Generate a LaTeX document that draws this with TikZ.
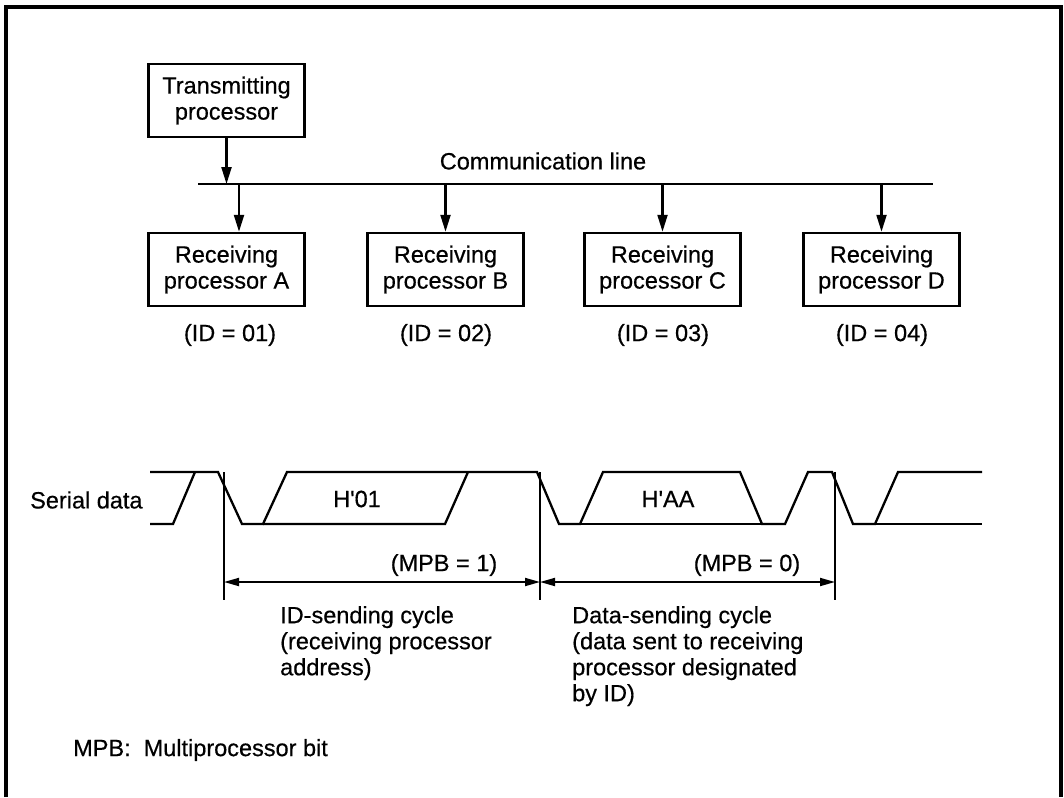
\documentclass[tikz,border=0pt]{standalone}
\usepackage{fontspec}
\setmainfont{Liberation Sans}[FakeBold=0.5]
\usetikzlibrary{arrows.meta}
\begin{document}
\begin{tikzpicture}[x=1pt,y=-1pt,
  every node/.style={font=\fontsize{23.5}{26}\selectfont},
  procbox/.style={draw,line width=2.5pt,minimum width=156pt,minimum height=73pt,align=center,inner sep=0pt},
  txt/.style={inner sep=0pt},
  conn/.style={line width=2.2pt,-{Triangle[length=17pt,width=10pt]}},
  wave/.style={line width=2.3pt,line join=miter},
  dimline/.style={line width=1.8pt,{Triangle[length=15pt,width=8pt]}-{Triangle[length=15pt,width=8pt]}},
  guide/.style={line width=1.8pt}]
\useasboundingbox (0,0) rectangle (1064,797);
% frame
\draw[line width=3.5pt] (6,797) -- (6,7) -- (1061,7) -- (1061,797);

% boxes
\node[procbox] (tp) at (226.5,100.5) {Transmitting\\processor};
\node[procbox] (ra) at (226.5,269.5) {Receiving\\processor A};
\node[procbox] (rb) at (445.5,269.5) {Receiving\\processor B};
\node[procbox] (rc) at (662.5,269.5) {Receiving\\processor C};
\node[procbox] (rd) at (881.5,269.5) {Receiving\\processor D};

% bus
\coordinate (busL) at (198,184);
\coordinate (busR) at (933,184);
\draw[line width=2.2pt] (busL) -- (busR);
\node[txt] (cl) at (543,161) {Communication line};
\coordinate (bT) at (226.5,184);
\coordinate (bA) at (239,184);
\coordinate (bB) at (445.5,184);
\coordinate (bC) at (662.5,184);
\coordinate (bD) at (881.5,184);
\draw[conn] (tp.south) -- (bT);
\draw[conn] (bA) -- (bA |- ra.north);
\draw[conn] (bB) -- (rb.north);
\draw[conn] (bC) -- (rc.north);
\draw[conn] (bD) -- (rd.north);

% IDs
\node[txt] (ida) at (230,335) {(ID = 01)};
\node[txt] (idb) at (446,335) {(ID = 02)};
\node[txt] (idc) at (663,335) {(ID = 03)};
\node[txt] (idd) at (882,335) {(ID = 04)};

% waveform
\node[txt,anchor=west] (sd) at (30,500) {Serial data};
\draw[wave] (150,472) -- (218,472) -- (242,524) -- (263,524) -- (287,472) -- (537,472)
  -- (559,524) -- (580,524) -- (603,472) -- (740,472) -- (762,524) -- (785,524)
  -- (808,472) -- (832,472) -- (853,524) -- (875,524) -- (898,472) -- (982,472);
\draw[wave] (150,524) -- (173,524) -- (195,472);
\draw[wave] (263,524) -- (445,524) -- (468,472);
\draw[wave] (580,524) -- (762,524);
\draw[wave] (875,524) -- (982,524);
\node[txt] (h01) at (357,499) {H\textquotesingle 01};
\node[txt] (haa) at (668,499) {H\textquotesingle AA};

% cycle markers
\coordinate (g1t) at (224,472); \coordinate (g1b) at (224,600);
\coordinate (g2t) at (540,472); \coordinate (g2b) at (540,600);
\coordinate (g3t) at (835,472); \coordinate (g3b) at (835,600);
\draw[guide] (g1t) -- (g1b);
\draw[guide] (g2t) -- (g2b);
\draw[guide] (g3t) -- (g3b);
\coordinate (d1) at (224,582);
\coordinate (d2) at (540,582);
\coordinate (d3) at (835,582);
\draw[dimline] (d1) -- (d2);
\draw[dimline] (d2) -- (d3);
\node[txt] (mpb1) at (444,565) {(MPB = 1)};
\node[txt] (mpb0) at (747,565) {(MPB = 0)};

\node[txt,anchor=north west,align=left] (idc1) at (280,606)
  {ID-sending cycle\\(receiving processor\\address)};
\node[txt,anchor=north west,align=left] (dsc) at (572,606)
  {Data-sending cycle\\(data sent to receiving\\processor designated\\by ID)};

\node[txt,anchor=west] (note) at (73,750) {MPB:\ \ Multiprocessor bit};
\end{tikzpicture}
\end{document}
